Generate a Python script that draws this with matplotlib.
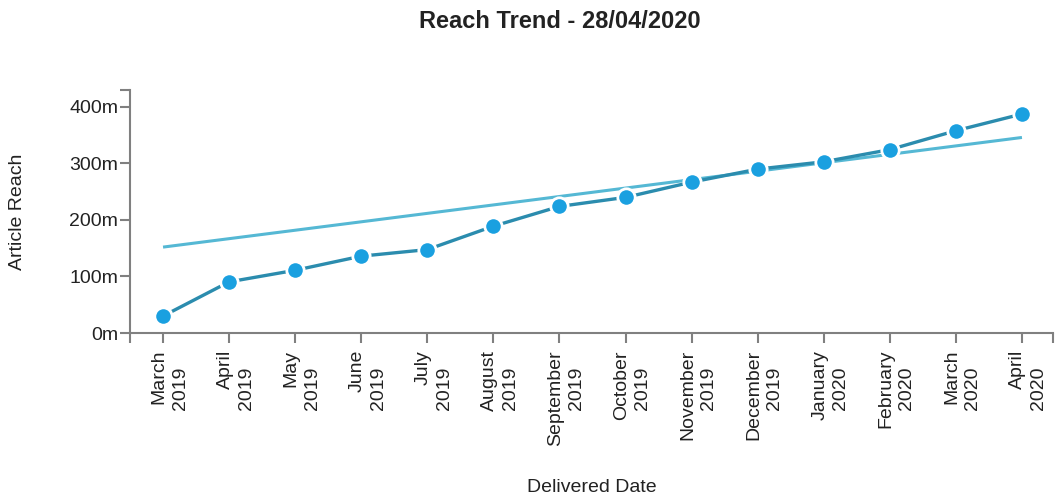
import matplotlib
matplotlib.use("Agg")
import matplotlib.pyplot as plt
import matplotlib.transforms as mtransforms

months = ["March", "April", "May", "June", "July", "August", "September",
          "October", "November", "December", "January", "February", "March", "April"]
years = ["2019"] * 10 + ["2020"] * 4
reach = [30, 90.5, 111, 136, 147.6, 189, 224, 240, 267, 290, 303, 324.5, 358, 387.5]
trend_ends = [152, 346]
yticks = [0, 100, 200, 300, 400]
ytick_labels = ["0m", "100m", "200m", "300m", "400m"]

plt.rcParams['font.family'] = ['Liberation Sans', 'DejaVu Sans']
W, H = 1055, 497
fig = plt.figure(figsize=(W / 100, H / 100), dpi=100)
ax = fig.add_axes([130 / W, 1 - 333 / H, (1053 - 130) / W, (333 - 90) / H])

x = list(range(len(reach)))
ax.plot([x[0], x[-1]], trend_ends, color='#55b8d4', lw=2.2, solid_capstyle='butt', zorder=2)
ax.plot(x, reach, color='#2b8cae', lw=2.4, marker='o', markersize=12.5,
        markerfacecolor='#1aa0e0', markeredgecolor='white', markeredgewidth=2, zorder=3)

ax.set_xlim(-0.5, 13.47)
ax.set_ylim(0, 430)

for s in ['top', 'right']:
    ax.spines[s].set_visible(False)
axis_col = '#808080'
for s in ['left', 'bottom']:
    ax.spines[s].set_color(axis_col)
    ax.spines[s].set_linewidth(1.5)

ax.set_yticks(yticks)
ax.set_yticklabels(ytick_labels, fontsize=14, color='#222222')
ax.set_yticks([430], minor=True)
ax.set_xticks(x)
ax.set_xticklabels([])
ax.set_xticks([-0.5, 13.47], minor=True)
ax.tick_params(axis='both', which='both', length=7.5, width=1.5, color=axis_col)
ax.tick_params(axis='y', which='major', pad=1)

px = 72.0 / 100.0
for i, (m, yv) in enumerate(zip(months, years)):
    off1 = mtransforms.ScaledTranslation(-4 / 100, -17 / 100, fig.dpi_scale_trans)
    off2 = mtransforms.ScaledTranslation(17 / 100, -34 / 100, fig.dpi_scale_trans)
    ax.text(i, 0, m, rotation=90, ha='center', va='top', fontsize=14, color='#222222',
            transform=ax.get_xaxis_transform() + off1)
    ax.text(i, 0, yv, rotation=90, ha='center', va='top', fontsize=14, color='#222222',
            transform=ax.get_xaxis_transform() + off2)

fig.text(560 / W, 1 - 22 / H, "Reach Trend - 28/04/2020", ha='center', va='center',
         fontsize=17, fontweight='bold', color='#222222')
fig.text(18 / W, 1 - 212 / H, "Article Reach", rotation=90, ha='center', va='center',
         fontsize=14, color='#222222')
fig.text(592 / W, 1 - 488 / H, "Delivered Date", ha='center', va='center',
         fontsize=14, color='#222222')

fig.savefig("out.png", dpi=100)
